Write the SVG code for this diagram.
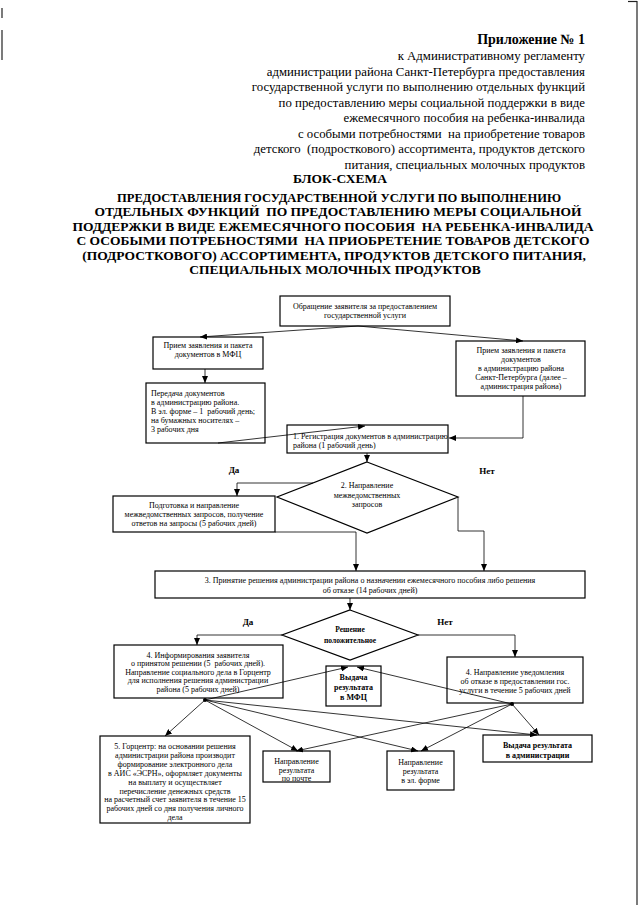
<svg xmlns="http://www.w3.org/2000/svg" width="640" height="905" viewBox="0 0 640 905">
<defs>
<marker id="ar" markerUnits="userSpaceOnUse" markerWidth="7" markerHeight="6" refX="7" refY="3" orient="auto">
<path d="M0,0 L7,3 L0,6 z" fill="#000"/>
</marker>
<style>
.bx{fill:none;stroke:#000;stroke-width:1.2}
.ln{fill:none;stroke:#000;stroke-width:0.8}
.t{font-family:"Liberation Serif","Times New Roman",serif;font-size:8px;fill:#000;text-anchor:middle}
.tl{font-family:"Liberation Serif","Times New Roman",serif;font-size:8px;fill:#000;text-anchor:start}
.tb{font-family:"Liberation Serif","Times New Roman",serif;font-size:8px;font-weight:bold;fill:#000;text-anchor:middle}
.lab{font-family:"Liberation Serif","Times New Roman",serif;font-size:9px;font-weight:bold;fill:#000;text-anchor:middle}
.h{font-family:"Liberation Serif","Times New Roman",serif;font-size:12.8px;fill:#000;text-anchor:end}
.hb{font-family:"Liberation Serif","Times New Roman",serif;font-size:14px;font-weight:bold;fill:#000;text-anchor:end}
.ti{font-family:"Liberation Serif","Times New Roman",serif;font-size:13.5px;font-weight:bold;fill:#000;text-anchor:middle}
</style>
</defs>
<rect x="0" y="0" width="640" height="905" fill="#fff"/>
<g id="scan-edges" stroke="#222" stroke-width="1.2">
<line x1="628" y1="1.5" x2="637" y2="1.5"/>
<line x1="637" y1="1" x2="637" y2="905"/>
<line x1="2" y1="8" x2="2" y2="18"/>
<line x1="2" y1="30" x2="2" y2="60"/>
</g>
<g id="header">
<text class="hb" x="585" y="44">Приложение № 1</text>
<text class="h" x="585" y="60">к Административному регламенту</text>
<text class="h" x="585" y="75.5">администрации района Санкт-Петербурга предоставления</text>
<text class="h" x="585" y="91">государственной услуги по выполнению отдельных функций</text>
<text class="h" x="585" y="106.5">по предоставлению меры социальной поддержки в виде</text>
<text class="h" x="585" y="122">ежемесячного пособия на ребенка-инвалида</text>
<text class="h" x="585" y="137.5" xml:space="preserve">с особыми потребностями  на приобретение товаров</text>
<text class="h" x="585" y="153" xml:space="preserve">детского  (подросткового) ассортимента, продуктов детского</text>
<text class="h" x="585" y="168.5">питания, специальных молочных продуктов</text>
</g>
<g id="title">
<text class="ti" x="340" y="183">БЛОК-СХЕМА</text>
<text class="ti" x="339" y="201.5" textLength="444" lengthAdjust="spacingAndGlyphs">ПРЕДОСТАВЛЕНИЯ ГОСУДАРСТВЕННОЙ УСЛУГИ ПО ВЫПОЛНЕНИЮ</text>
<text class="ti" x="338" y="216" xml:space="preserve">ОТДЕЛЬНЫХ ФУНКЦИЙ  ПО ПРЕДОСТАВЛЕНИЮ МЕРЫ СОЦИАЛЬНОЙ</text>
<text class="ti" x="333" y="230.5" xml:space="preserve">ПОДДЕРЖКИ В ВИДЕ ЕЖЕМЕСЯЧНОГО ПОСОБИЯ  НА РЕБЕНКА-ИНВАЛИДА</text>
<text class="ti" x="333" y="245" xml:space="preserve">С ОСОБЫМИ ПОТРЕБНОСТЯМИ  НА ПРИОБРЕТЕНИЕ ТОВАРОВ ДЕТСКОГО</text>
<text class="ti" x="334" y="259.5">(ПОДРОСТКОВОГО) АССОРТИМЕНТА, ПРОДУКТОВ ДЕТСКОГО ПИТАНИЯ,</text>
<text class="ti" x="335" y="274">СПЕЦИАЛЬНЫХ МОЛОЧНЫХ ПРОДУКТОВ</text>
</g>
<g id="connectors">
<line class="ln" x1="358" y1="326" x2="200" y2="337" marker-end="url(#ar)"/>
<line class="ln" x1="358" y1="326" x2="523" y2="341" marker-end="url(#ar)"/>
<line class="ln" x1="205" y1="369" x2="205" y2="383" marker-end="url(#ar)"/>
<line class="ln" x1="218" y1="443" x2="365" y2="426" marker-end="url(#ar)"/>
<polyline class="ln" points="523,396 523,438 449,438" marker-end="url(#ar)"/>
<line class="ln" x1="367" y1="453" x2="367" y2="462" marker-end="url(#ar)"/>
<polyline class="ln" points="313,483 237,483 237,496" marker-end="url(#ar)"/>
<polyline class="ln" points="275,532 356,532 356,571" marker-end="url(#ar)"/>
<polyline class="ln" points="458,497 458,531 484,531 484,571" marker-end="url(#ar)"/>
<line class="ln" x1="350" y1="598" x2="350" y2="610" marker-end="url(#ar)"/>
<polyline class="ln" points="282,635 197,635 197,645" marker-end="url(#ar)"/>
<polyline class="ln" points="418,635 515,635 515,657" marker-end="url(#ar)"/>
<line class="ln" x1="205" y1="700" x2="348" y2="667" marker-end="url(#ar)"/>
<line class="ln" x1="512" y1="704" x2="357" y2="667" marker-end="url(#ar)"/>
<line class="ln" x1="205" y1="700" x2="165" y2="736" marker-end="url(#ar)"/>
<line class="ln" x1="205" y1="700" x2="298" y2="751" marker-end="url(#ar)"/>
<line class="ln" x1="205" y1="700" x2="418" y2="751" marker-end="url(#ar)"/>
<line class="ln" x1="205" y1="700" x2="537" y2="735" marker-end="url(#ar)"/>
<line class="ln" x1="512" y1="704" x2="296" y2="751" marker-end="url(#ar)"/>
<line class="ln" x1="512" y1="704" x2="421" y2="751" marker-end="url(#ar)"/>
<line class="ln" x1="512" y1="704" x2="539" y2="735" marker-end="url(#ar)"/>
<circle cx="205" cy="700" r="2" fill="#000"/>
<circle cx="512" cy="704" r="2" fill="#000"/>
</g>
<g id="labels">
<text class="lab" x="234" y="473">Да</text>
<text class="lab" x="487" y="474">Нет</text>
<text class="lab" x="248" y="625">Да</text>
<text class="lab" x="445" y="625">Нет</text>
</g>
<g id="n-obrashchenie">
<rect class="bx" x="280" y="296" width="170" height="30"/>
<text class="t" x="365" y="309">Обращение заявителя за предоставлением</text>
<text class="t" x="365" y="318">государственной услуги</text>
</g>
<g id="n-mfc">
<rect class="bx" x="153" y="337" width="110" height="32"/>
<text class="t" x="208" y="348">Прием заявления и пакета</text>
<text class="t" x="208" y="357">документов в МФЦ</text>
</g>
<g id="n-peredacha">
<rect class="bx" x="146" y="383" width="119" height="60"/>
<text class="tl" x="151" y="395.5">Передача документов</text>
<text class="tl" x="151" y="404.5">в администрацию района.</text>
<text class="tl" x="151" y="413.5" xml:space="preserve">В эл. форме – 1  рабочий день;</text>
<text class="tl" x="151" y="422.5">на бумажных носителях –</text>
<text class="tl" x="151" y="431.5">3 рабочих дня</text>
</g>
<g id="n-admin-priem">
<rect class="bx" x="456" y="341" width="129" height="55"/>
<text class="t" x="521" y="353">Прием заявления и пакета</text>
<text class="t" x="521" y="362">документов</text>
<text class="t" x="521" y="371">в администрацию района</text>
<text class="t" x="521" y="380">Санкт-Петербурга (далее –</text>
<text class="t" x="521" y="389">администрация района)</text>
</g>
<g id="n-registraciya">
<rect class="bx" x="287" y="425" width="161" height="28"/>
<text class="tl" x="293" y="438.5">1. Регистрация документов в администрацию</text>
<text class="tl" x="293" y="448">района (1 рабочий день)</text>
</g>
<g id="n-mezhved-diamond">
<polygon class="bx" points="367,462 458,497 367,533 277,497"/>
<text class="t" x="367" y="488">2. Направление</text>
<text class="t" x="367" y="497.5">межведомственных</text>
<text class="t" x="367" y="507">запросов</text>
</g>
<g id="n-podgotovka">
<rect class="bx" x="113" y="496" width="162" height="36"/>
<text class="t" x="194" y="507.5">Подготовка и направление</text>
<text class="t" x="194" y="516.5">межведомственных запросов, получение</text>
<text class="t" x="194" y="525.5">ответов на запросы (5 рабочих дней)</text>
</g>
<g id="n-prinyatie">
<rect class="bx" x="155" y="571" width="430" height="27"/>
<text class="t" x="370" y="582.5">3. Принятие решения администрации района о назначении ежемесячного пособия либо решения</text>
<text class="t" x="370" y="593">об отказе (14 рабочих дней)</text>
</g>
<g id="n-reshenie-diamond">
<polygon class="bx" points="350,610 418,635 350,660 282,635"/>
<text class="tb" x="350" y="632" style="font-size:7.5px">Решение</text>
<text class="tb" x="350" y="643" style="font-size:7.5px">положительное</text>
</g>
<g id="n-informirovanie">
<rect class="bx" x="114" y="645" width="169" height="53"/>
<text class="t" x="198" y="657.5">4. Информирования заявителя</text>
<text class="t" x="198" y="666" xml:space="preserve">о принятом решении (5  рабочих дней).</text>
<text class="t" x="198" y="674.5">Направление социального дела в Горцентр</text>
<text class="t" x="198" y="683">для исполнения решения администрации</text>
<text class="t" x="198" y="691.5">района (5 рабочих дней)</text>
</g>
<g id="n-vydacha-mfc">
<rect class="bx" x="326" y="666" width="55" height="40"/>
<text class="tb" x="353.5" y="679.5">Выдача</text>
<text class="tb" x="353.5" y="689.5">результата</text>
<text class="tb" x="353.5" y="699.5">в МФЦ</text>
</g>
<g id="n-otkaz">
<rect class="bx" x="447" y="657" width="136" height="46"/>
<text class="t" x="515" y="674.5">4. Направление уведомления</text>
<text class="t" x="515" y="683.5">об отказе в предоставлении гос.</text>
<text class="t" x="515" y="692.5">услуги в течение 5 рабочих дней</text>
</g>
<g id="n-gorcentr">
<rect class="bx" x="100" y="736" width="150" height="87"/>
<text class="t" x="175" y="748.5">5. Горцентр: на основании решения</text>
<text class="t" x="175" y="757.5">администрации района производит</text>
<text class="t" x="175" y="766.5">формирование электронного дела</text>
<text class="t" x="175" y="775.5">в АИС «ЭСРН», оформляет документы</text>
<text class="t" x="175" y="784.5">на выплату и осуществляет</text>
<text class="t" x="175" y="793.5">перечисление денежных средств</text>
<text class="t" x="175" y="802">на расчетный счет заявителя в течение 15</text>
<text class="t" x="175" y="811">рабочих дней со дня получения личного</text>
<text class="t" x="175" y="820">дела</text>
</g>
<g id="n-pochta">
<rect class="bx" x="263" y="751" width="67" height="31"/>
<text class="t" x="296.5" y="763.5">Направление</text>
<text class="t" x="296.5" y="772.5">результата</text>
<text class="t" x="296.5" y="781">по почте</text>
</g>
<g id="n-el-forma">
<rect class="bx" x="387" y="751" width="67" height="39"/>
<text class="t" x="420.5" y="764.5">Направление</text>
<text class="t" x="420.5" y="773.5">результата</text>
<text class="t" x="420.5" y="782.5">в эл. форме</text>
</g>
<g id="n-vydacha-admin">
<rect class="bx" x="483" y="735" width="109" height="27"/>
<text class="tb" x="537.5" y="747.5">Выдача результата</text>
<text class="tb" x="537.5" y="757.5">в администрации</text>
</g>
</svg>
